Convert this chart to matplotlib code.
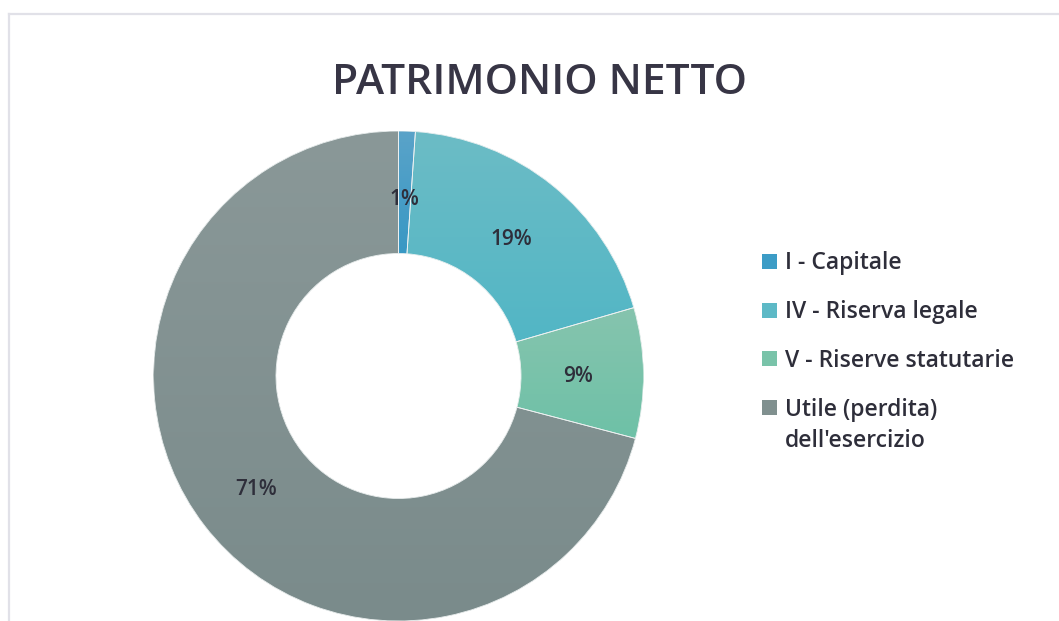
import numpy as np
import matplotlib.pyplot as plt
from matplotlib.lines import Line2D
from matplotlib.patches import Wedge
from matplotlib.colors import to_rgb

labels = ['I - Capitale', 'IV - Riserva legale', 'V - Riserve statutarie',
          "Utile (perdita)\ndell'esercizio"]
values = [1.1, 19.4, 8.6, 70.9]
colors = ['#3c9cc6', '#5db9c6', '#79c3a9', '#80908f']
# gradient ends (top, bottom) for each slice
top_colors = ['#5aa3c9', '#6cbcc6', '#86c4ae', '#8a9898']
bottom_colors = ['#3898c4', '#52b6c5', '#6ec1a7', '#7a8b8b']

plt.rcParams['font.family'] = ['Open Sans', 'DejaVu Sans']

fig = plt.figure(figsize=(10.59, 6.21), dpi=100)

# light frame round the chart area
fig.add_artist(Line2D([9 / 1059, 9 / 1059], [0, 1 - 14 / 621], color='#e1e1e8', lw=1.6))
fig.add_artist(Line2D([9 / 1059, 1], [1 - 14 / 621, 1 - 14 / 621], color='#e1e1e8', lw=1.6))

fig.text(540 / 1059, 1 - 83.5 / 621, 'PATRIMONIO NETTO', ha='center', va='center',
         fontsize=30.6, fontweight='semibold', color='#373545')

# pie axes: centre (398.5, 376), outer radius 245 px
r = 245
ax = fig.add_axes([(398.5 - r) / 1059, 1 - (376 + r) / 621, 2 * r / 1059, 2 * r / 621])
wedges, texts, autotexts = ax.pie(
    values, colors=colors, startangle=90, counterclock=False,
    autopct=lambda p: f'{p:.0f}%', pctdistance=0.735,
    wedgeprops=dict(width=0.5, linewidth=0),
    textprops=dict(fontsize=15, fontweight='semibold', color='#2e2e3a'))

# vertical gradient inside each slice
for w, c1, c2 in zip(wedges, top_colors, bottom_colors):
    verts = ax.transData.inverted().transform(w.get_verts())
    y0, y1 = verts[:, 1].min(), verts[:, 1].max()
    t = np.linspace(0, 1, 256)[:, None]
    grad = (1 - t) * np.array(to_rgb(c2)) + t * np.array(to_rgb(c1))
    im = ax.imshow(grad[:, None, :], extent=[-1, 1, y0, y1], origin='lower',
                   aspect='auto', zorder=1.5, interpolation='bilinear')
    im.set_clip_path(w)
    ax.add_patch(Wedge(w.center, w.r, w.theta1, w.theta2, width=w.width, fill=False,
                       edgecolor='#eef2f2', lw=0.6, zorder=2))

for t in autotexts:
    x, y = t.get_position()
    t.set_position((x, y - 0.013))

ax.set_xlim(-1, 1)
ax.set_ylim(-1, 1)
ax.set_aspect('equal')
ax.axis('off')

# legend: square sits beside the first line of a two-line label
first_lines = [s.split('\n')[0] for s in labels]
leg = fig.legend(wedges, first_lines, loc='upper left',
                 bbox_to_anchor=(751 / 1059, 1 - 240 / 621),
                 frameon=False, fontsize=16.5, handlelength=0.62, handleheight=0.62,
                 handletextpad=0.35, labelspacing=1.08, borderpad=0)
for t in leg.get_texts():
    t.set_color('#2e2e3a')
    t.set_fontweight('semibold')

fig.canvas.draw()
for s, t in zip(labels, leg.get_texts()):
    extra = s.split('\n')[1:]
    if not extra:
        continue
    bb = t.get_window_extent()
    for k, line in enumerate(extra, 1):
        fig.text(bb.x0 / fig.bbox.width, (bb.y0 - 25 * k) / fig.bbox.height, line,
                 fontsize=16.5, fontweight='semibold', color='#2e2e3a')

fig.savefig('out.png', dpi=100, facecolor='white')
